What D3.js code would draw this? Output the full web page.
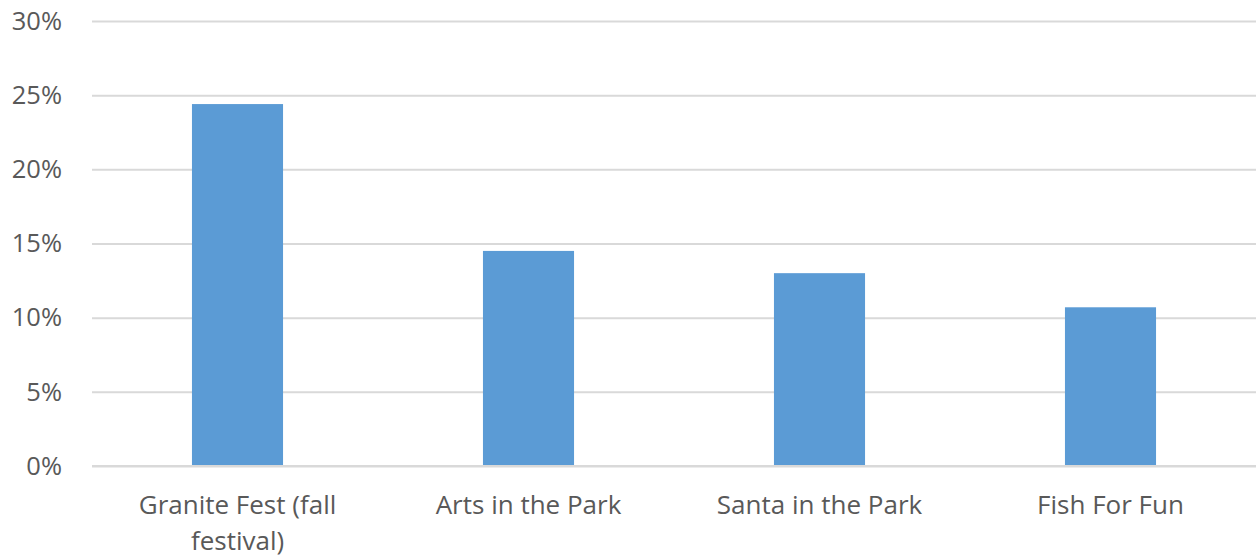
<!DOCTYPE html>
<html lang="en">
<head>
    <meta charset="UTF-8">
    <title>Event share</title>
    <style>
        body { margin: 0; background: #fff; }
        .chart text { font-family: 'Open Sans', sans-serif; fill: #595959; }
    </style>
</head>
<body>
<svg class='chart'></svg>

<script src="https://d3js.org/d3.v7.min.js"></script>
<script>
// data
var categories = ['Granite Fest (fall festival)', 'Arts in the Park', 'Santa in the Park', 'Fish For Fun'];
var shares = [0.244, 0.145, 0.130, 0.107];
var yTicks = [0, 0.05, 0.10, 0.15, 0.20, 0.25, 0.30];

var settings = {
    width: 1256,
    height: 559,
    margin: {top: 21, right: 0, bottom: 93, left: 92}
};

var innerW = settings.width - settings.margin.left - settings.margin.right;
var innerH = settings.height - settings.margin.top - settings.margin.bottom;

var xChart = d3.scaleBand()
    .domain(categories)
    .range([0, innerW])
    .paddingInner(0.687)
    .paddingOuter(0.3435);

var yChart = d3.scaleLinear().domain([0, 0.30]).range([innerH, 0]);

var svg = d3.select('.chart')
    .attr('width', settings.width)
    .attr('height', settings.height);

var chart = svg.append('g')
    .attr('transform', `translate(${settings.margin.left}, ${settings.margin.top})`);

// gridlines + y labels
var yAxis = d3.axisLeft(yChart)
    .tickValues(yTicks)
    .tickFormat(d3.format('.0%'))
    .tickSize(-innerW)
    .tickPadding(30);

var yg = chart.append('g').attr('class', 'y axis').call(yAxis);
yg.select('.domain').remove();
yg.selectAll('line').attr('stroke', '#d9d9d9').attr('stroke-width', 2);
yg.selectAll('text').style('font-size', '25.5px');

// bars
chart.selectAll('.bar')
    .data(shares)
    .enter()
    .append('rect')
    .attr('class', 'bar')
    .attr('x', (d, i) => xChart(categories[i]))
    .attr('y', d => yChart(d))
    .attr('width', xChart.bandwidth())
    .attr('height', d => innerH - yChart(d))
    .attr('fill', '#5b9bd5');

// redraw baseline over bars
chart.append('line')
    .attr('x1', 0).attr('x2', innerW)
    .attr('y1', yChart(0)).attr('y2', yChart(0))
    .attr('stroke', '#d9d9d9').attr('stroke-width', 2);

// x labels
var xAxis = d3.axisBottom(xChart).tickSize(0).tickPadding(30);
var xg = chart.append('g')
    .attr('class', 'x axis')
    .attr('transform', `translate(0, ${innerH})`)
    .call(xAxis);
xg.select('.domain').remove();
xg.selectAll('text')
    .style('font-size', '26px')
    .call(wrap, xChart.step() * 0.8);

function wrap(texts, width) {
    texts.each(function() {
        var text = d3.select(this);
        var words = text.text().split(/\s+/);
        var y = text.attr('y');
        var dy = parseFloat(text.attr('dy'));
        var line = [];
        var lineNumber = 0;
        var tspan = text.text(null).append('tspan').attr('x', 0).attr('y', y).attr('dy', dy + 'em');
        words.forEach(function(word) {
            line.push(word);
            tspan.text(line.join(' '));
            if (tspan.node().getComputedTextLength() > width && line.length > 1) {
                line.pop();
                tspan.text(line.join(' '));
                line = [word];
                tspan = text.append('tspan')
                    .attr('x', 0).attr('y', y)
                    .attr('dy', (++lineNumber * 1.35 + dy) + 'em')
                    .text(word);
            }
        });
    });
}
</script>
</body>
</html>
